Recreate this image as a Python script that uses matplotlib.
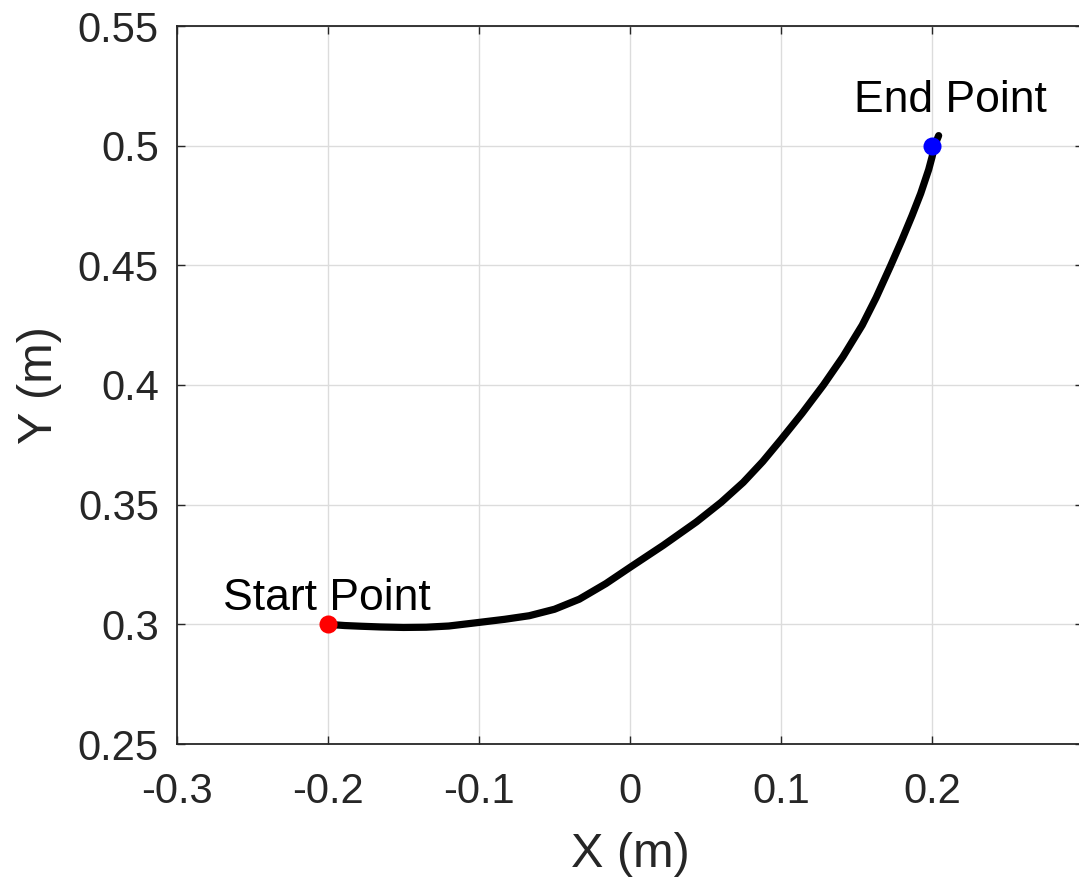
import matplotlib
matplotlib.use("Agg")
import matplotlib.pyplot as plt

# Trajectory points
traj_x = [-0.200, -0.189, -0.178, -0.165, -0.150, -0.135, -0.120, -0.100, -0.083,
          -0.0667, -0.050, -0.0336, -0.016, 0.000, 0.022, 0.044, 0.0604, 0.075,
          0.0879, 0.100, 0.114, 0.1281, 0.141, 0.1538, 0.163, 0.1725, 0.180,
          0.1868, 0.1925, 0.1978, 0.2000, 0.2018, 0.2033, 0.2044]
traj_y = [0.3000, 0.2995, 0.2992, 0.2989, 0.2987, 0.2988, 0.2993, 0.3008, 0.3021,
          0.3036, 0.3063, 0.3105, 0.3170, 0.3238, 0.3330, 0.3428, 0.3510, 0.3593,
          0.3680, 0.3772, 0.3882, 0.4000, 0.4118, 0.4250, 0.4365, 0.4497, 0.4605,
          0.4708, 0.4800, 0.4900, 0.4952, 0.5000, 0.5025, 0.5042]

start_pt = (-0.2, 0.3)
end_pt = (0.2, 0.5)
start_label = "Start Point"
end_label = "End Point"
start_label_pos = (-0.2008, 0.3060)
end_label_pos = (0.2125, 0.5142)

x_ticks = [-0.3, -0.2, -0.1, 0, 0.1, 0.2]
x_tick_labels = ["-0.3", "-0.2", "-0.1", "0", "0.1", "0.2"]
y_ticks = [0.25, 0.3, 0.35, 0.4, 0.45, 0.5, 0.55]
y_tick_labels = ["0.25", "0.3", "0.35", "0.4", "0.45", "0.5", "0.55"]

plt.rcParams['font.family'] = ['Liberation Sans', 'DejaVu Sans']

W, H = 1079, 884
fig = plt.figure(figsize=(W / 100, H / 100), dpi=100)
left, right, top, bottom = 177, 1083, 26, 744
ax = fig.add_axes([left / W, 1 - bottom / H, (right - left) / W, (bottom - top) / H])

ax.plot(traj_x, traj_y, color='black', lw=5.2, solid_capstyle='round',
        solid_joinstyle='round', zorder=3)
ax.plot([start_pt[0]], [start_pt[1]], 'o', color='#ff0000', ms=13, mec='none', zorder=4)
ax.plot([end_pt[0]], [end_pt[1]], 'o', color='#0000ff', ms=13, mec='none', zorder=4)

ax.text(*start_label_pos, start_label, ha='center', va='baseline', fontsize=32, color='black')
ax.text(*end_label_pos, end_label, ha='center', va='baseline', fontsize=32, color='black')

ax.set_xlim(-0.3, 0.3)
ax.set_ylim(0.25, 0.55)
ax.set_xticks(x_ticks)
ax.set_xticklabels(x_tick_labels)
ax.set_yticks(y_ticks)
ax.set_yticklabels(y_tick_labels)

ax.grid(True, color='#dcdcdc', lw=1.0)
ax.set_axisbelow(True)

for s in ax.spines.values():
    s.set_color('#262626')
    s.set_linewidth(1.3)

ax.tick_params(axis='both', direction='in', length=6, width=1.0, color='#262626',
               labelcolor='#262626', labelsize=30, top=True, right=True)
ax.tick_params(axis='x', pad=20)
ax.tick_params(axis='y', pad=13)

ax.set_xlabel("X (m)", fontsize=35, color='#262626')
ax.set_ylabel("Y (m)", fontsize=35, color='#262626')
ax.xaxis.set_label_coords(0.5, -(832 - bottom) / (bottom - top))
ax.yaxis.set_label_coords((62 - left) / (right - left), 0.5)

fig.savefig("out.png", dpi=100)
